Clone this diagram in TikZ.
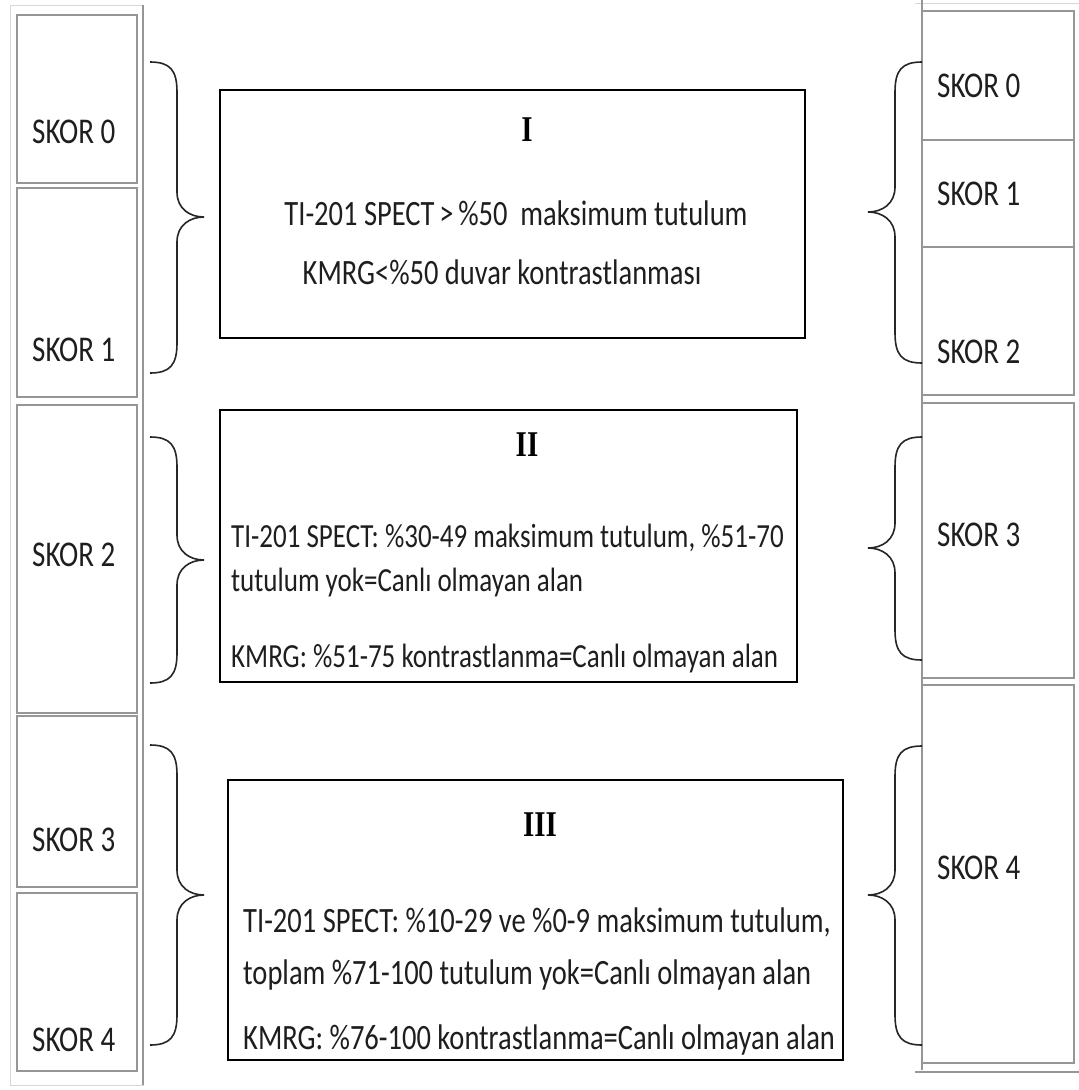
\documentclass[tikz,border=0pt]{standalone}
\usepackage{graphicx}
\usepackage{fontspec}
\setmainfont{Carlito}
\newfontfamily\titlefont{Liberation Serif}
\newcommand{\vs}[1]{\scalebox{1}[1.25]{#1}}
\definecolor{cellgray}{RGB}{150,150,150}
\definecolor{faintgray}{RGB}{215,215,215}
\definecolor{txt}{RGB}{30,30,30}
\tikzset{
  cell/.style={draw=cellgray, line width=1.2pt},
  faint/.style={draw=faintgray, line width=1pt},
  bigbox/.style={draw=black, line width=1.6pt},
  brace/.style={draw=black!85, line width=1.6pt},
  skor/.style={anchor=west, inner sep=0pt, text=txt, font=\fontsize{29}{30}\selectfont},
  btext/.style={inner sep=0pt, text=txt, font=\fontsize{28.5}{30}\selectfont},
  btextb/.style={inner sep=0pt, text=txt, font=\fontsize{27}{30}\selectfont},
  title/.style={inner sep=0pt, text=black, font=\titlefont\bfseries\fontsize{29}{30}\selectfont}
}
\newcommand{\leftbr}[3]{% top, tip, bottom (y, downwards positive)
  \draw[brace] (150,#1) .. controls (170,#1) and (177,#1+8) .. (177,#1+30)
     -- (177,#2-25) .. controls (177,#2-8) and (190,#2) .. (204,#2)
     .. controls (190,#2) and (177,#2+8) .. (177,#2+25)
     -- (177,#3-30) .. controls (177,#3-8) and (170,#3) .. (150,#3);}
\newcommand{\rightbr}[3]{%
  \draw[brace] (922,#1) .. controls (902,#1) and (895,#1+8) .. (895,#1+30)
     -- (895,#2-25) .. controls (895,#2-8) and (882,#2) .. (868,#2)
     .. controls (882,#2) and (895,#2+8) .. (895,#2+25)
     -- (895,#3-30) .. controls (895,#3-8) and (902,#3) .. (922,#3);}
\begin{document}
\begin{tikzpicture}[x=1pt,y=-1pt]
\useasboundingbox (0,0) rectangle (1079,1090);
\fill[white] (0,0) rectangle (1079,1090);

% left column
\draw[faint] (10,5) rectangle (143,1085);
\draw[cell] (143,5) -- (143,1085);
\draw[cell] (17,15) rectangle (137,183);
\draw[cell] (17,188) rectangle (137,397);
\draw[cell] (17,405) rectangle (137,713);
\draw[cell] (17,716) rectangle (137,887);
\draw[cell] (17,893) rectangle (137,1071);

% right column
\draw[faint] (915,3) -- (1079,3);
\draw[cell] (922,0) -- (922,1070);
\draw[cell] (922,11) rectangle (1074,140);
\draw[cell] (922,140) rectangle (1074,247);
\draw[cell] (922,247) rectangle (1074,395);
\draw[cell] (922,403) rectangle (1074,678);
\draw[cell] (922,685) rectangle (1074,1063);
\draw[cell] (915,1072) -- (1079,1072);

% left labels
\node[skor] (l0) at (32,132) {\vs{SKOR 0}};
\node[skor] (l1) at (32,350) {\vs{SKOR 1}};
\node[skor] (l2) at (32,555) {\vs{SKOR 2}};
\node[skor] (l3) at (32,840) {\vs{SKOR 3}};
\node[skor] (l4) at (32,1040) {\vs{SKOR 4}};

% right labels
\node[skor] (r0) at (937,86) {\vs{SKOR 0}};
\node[skor] (r1) at (937,194) {\vs{SKOR 1}};
\node[skor] (r2) at (937,352) {\vs{SKOR 2}};
\node[skor] (r3) at (937,535) {\vs{SKOR 3}};
\node[skor] (r4) at (937,868) {\vs{SKOR 4}};

% braces
\leftbr{62}{217}{373}
\leftbr{437}{560}{683}
\leftbr{745}{895}{1045}
\rightbr{62}{212}{363}
\rightbr{437}{548}{660}
\rightbr{746}{895}{1045}

% box I
\draw[bigbox] (220,90) rectangle (805,338);
\node[title] (t1) at (527,130) {\vs{I}};
\node[btext] (b1a) at (516,213) {\vs{TI-201 SPECT\,>\,\%50 \ maksimum tutulum}};
\node[btext] (b1b) at (502,272) {\vs{KMRG<\%50 duvar kontrastlanması}};

% box II
\draw[bigbox] (220,410) rectangle (797,682);
\node[title] (t2) at (527,445) {\vs{II}};
\node[btextb, anchor=west] (b2a) at (231,538) {\vs{TI-201 SPECT: \%30-49 maksimum tutulum, \%51-70}};
\node[btextb, anchor=west] (b2b) at (231,582) {\vs{tutulum yok=Canlı olmayan alan}};
\node[btextb, anchor=west] (b2c) at (231,658) {\vs{KMRG: \%51-75 kontrastlanma=Canlı olmayan alan}};

% box III
\draw[bigbox] (228,780) rectangle (843,1060);
\node[title] (t3) at (540,825) {\vs{III}};
\node[btext, anchor=west] (b3a) at (243,922) {\vs{TI-201 SPECT: \%10-29 ve \%0-9 maksimum tutulum,}};
\node[btext, anchor=west] (b3b) at (243,975) {\vs{toplam \%71-100 tutulum yok=Canlı olmayan alan}};
\node[btext, anchor=west] (b3c) at (243,1040) {\vs{KMRG: \%76-100 kontrastlanma=Canlı olmayan alan}};
\end{tikzpicture}
\end{document}
